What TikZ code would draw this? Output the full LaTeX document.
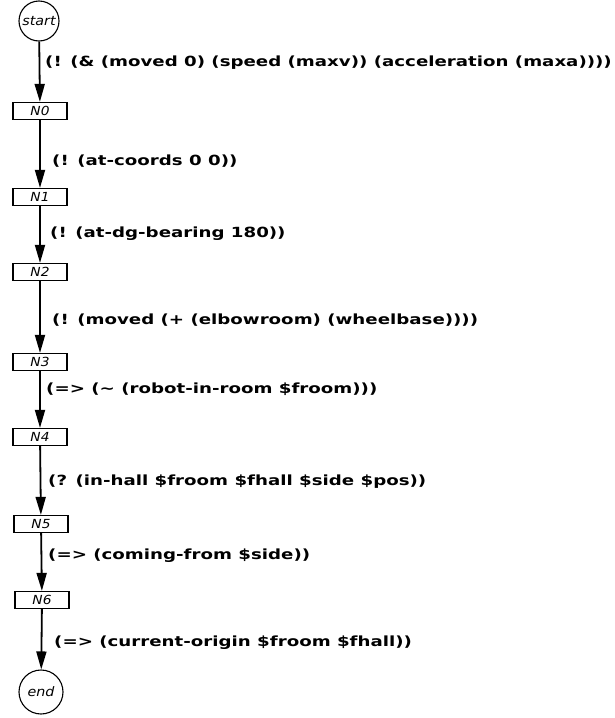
\documentclass[tikz,border=0pt]{standalone}
\usepackage{fontspec}
\setmainfont{DejaVu Sans}
\newfontfamily\labfont[FakeStretch=1.3]{DejaVu Sans}
\newfontfamily\nodefont[FakeStretch=1.1]{DejaVu Sans}
\usetikzlibrary{arrows.meta}
\tikzset{
  state/.style={draw, circle, line width=1.1pt, minimum size=40pt, inner sep=0pt, font=\nodefont\fontsize{13}{13}\selectfont\itshape},
  nbox/.style={draw, rectangle, line width=1.2pt, minimum width=54pt, minimum height=17pt, inner sep=0pt, font=\nodefont\fontsize{12.5}{12.5}\selectfont\itshape},
  edge/.style={line width=1.8pt, -{Triangle[length=18pt,width=10pt]}},
  elabel/.style={anchor=west, inner sep=0pt, font=\labfont\fontsize{14}{14}\selectfont\bfseries}
}
\begin{document}
\begin{tikzpicture}[x=1pt,y=-1pt]
\useasboundingbox (0,0) rectangle (614,718);
\node[state] (start) at (39,21) {start};
\node[nbox] (n0) at (40,111) {N0};
\node[nbox] (n1) at (40,197) {N1};
\node[nbox] (n2) at (40,272) {N2};
\node[nbox] (n3) at (40,362) {N3};
\node[nbox] (n4) at (40,437) {N4};
\node[nbox] (n5) at (41,524) {N5};
\node[nbox] (n6) at (42,600) {N6};
\node[state, minimum size=44pt] (end) at (41,692) {end};
\draw[edge] (start) -- (n0);
\draw[edge] (n0) -- (n1);
\draw[edge] (n1) -- (n2);
\draw[edge] (n2) -- (n3);
\draw[edge] (n3) -- (n4);
\draw[edge] (n4) -- (n5);
\draw[edge] (n5) -- (n6);
\draw[edge] (n6) -- (end);
\node[elabel] (l1) at (45,63) {(! (\& (moved 0) (speed (maxv)) (acceleration (maxa))))};
\node[elabel] (l2) at (52,161) {(! (at-coords 0 0))};
\node[elabel] (l3) at (50,234) {(! (at-dg-bearing 180))};
\node[elabel] (l4) at (52,320) {(! (moved (+ (elbowroom) (wheelbase))))};
\node[elabel] (l5) at (46,389) {(=> (\textasciitilde\ (robot-in-room \$froom)))};
\node[elabel] (l6) at (48,482) {(? (in-hall \$froom \$fhall \$side \$pos))};
\node[elabel] (l7) at (48,556) {(=> (coming-from \$side))};
\node[elabel] (l8) at (54,643) {(=> (current-origin \$froom \$fhall))};
\end{tikzpicture}
\end{document}
